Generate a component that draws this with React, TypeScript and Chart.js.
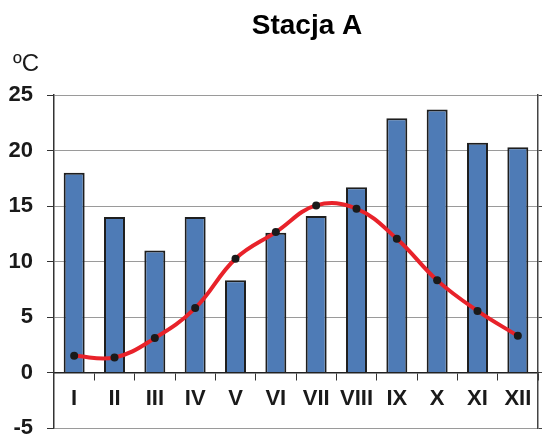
import React, { useEffect, useRef } from "react";
import { Chart, registerables } from "chart.js";

Chart.register(...registerables);

const months = ["I", "II", "III", "IV", "V", "VI", "VII", "VIII", "IX", "X", "XI", "XII"];
const precipitation = [18, 14, 11, 14, 8.3, 12.6, 14.1, 16.7, 22.9, 23.7, 20.7, 20.3];
const temperature = [1.5, 1.35, 3.1, 5.8, 10.25, 12.65, 15.05, 14.75, 12.05, 8.3, 5.55, 3.3];
const yMin = -5;
const yMax = 25;
const yStep = 5;
const titleText = "Stacja A";
const unitText = "ºC";

const FONT = '"Liberation Sans", Arial, sans-serif';

const textPlugin = {
  id: "textPlugin",
  afterDraw(chart: any) {
    const ctx = chart.ctx;
    const ca = chart.chartArea;
    ctx.save();
    ctx.fillStyle = "#000";
    ctx.font = `bold 28px ${FONT}`;
    ctx.textAlign = "center";
    ctx.textBaseline = "alphabetic";
    ctx.fillText(titleText, (ca.left + ca.right) / 2 + 11, 34);
    ctx.font = `24px ${FONT}`;
    ctx.textAlign = "left";
    ctx.fillStyle = "#1a1a1a";
    ctx.fillText(unitText, 13, 71);
    ctx.restore();
  },
};

export default function App() {
  const ref = useRef<HTMLCanvasElement>(null);
  useEffect(() => {
    document.body.style.margin = "0";
    const canvas = ref.current!;
    const chart = new Chart(canvas, {
      type: "bar",
      data: {
        labels: months,
        datasets: [
          {
            type: "line",
            data: temperature,
            borderColor: "#E8222A",
            borderWidth: 4,
            tension: 0.4,
            pointRadius: 4,
            pointBackgroundColor: "#1a1a1a",
            pointBorderColor: "#1a1a1a",
            pointBorderWidth: 0,
            order: 0,
            yAxisID: "y",
          } as any,
          {
            type: "bar",
            data: precipitation,
            backgroundColor: "#4E7BB6",
            borderColor: "#1e1e1e",
            borderWidth: 2,
            barPercentage: 0.52,
            categoryPercentage: 1,
            order: 1,
            yAxisID: "y",
          },
        ],
      },
      options: {
        responsive: false,
        animation: false,
        layout: { padding: { top: 95, bottom: 11, left: 0, right: -3 } },
        plugins: {
          legend: { display: false },
          title: { display: false },
          tooltip: { enabled: false },
        },
        scales: {
          x: {
            type: "category",
            position: { y: 0 } as any,
            offset: true,
            afterFit(scale: any) {
              scale.height = 0;
              scale.paddingLeft = 0;
              scale.paddingRight = 0;
            },
            grid: {
              display: true,
              offset: true,
              drawOnChartArea: false,
              drawTicks: true,
              tickLength: 7,
              tickColor: "#333",
              color: "#333",
            },
            border: { display: true, color: "#222", width: 1.5 },
            ticks: {
              color: "#1a1a1a",
              font: { family: FONT, size: 22, weight: "bold" },
              padding: 6,
              maxRotation: 0,
              autoSkip: false,
            },
          },
          y: {
            position: "left",
            min: yMin,
            max: yMax,
            afterFit(scale: any) {
              scale.width = 54;
              scale.paddingTop = 0;
              scale.paddingBottom = 0;
            },
            ticks: {
              stepSize: yStep,
              color: "#1a1a1a",
              font: { family: FONT, size: 22, weight: "bold" },
              padding: 14,
            },
            grid: {
              color: (c: any) => (c.tick && c.tick.value === 0 ? "#222" : "#9a9a9a"),
              tickColor: "#333",
              tickLength: 7,
              lineWidth: 1,
            },
            border: { display: true, color: "#333", width: 1.5 },
          },
          yR: {
            position: "right",
            min: yMin,
            max: yMax,
            afterFit(scale: any) {
              scale.width = 0;
              scale.paddingTop = 0;
              scale.paddingBottom = 0;
            },
            ticks: { display: false, stepSize: yStep },
            grid: {
              drawOnChartArea: false,
              tickLength: 7,
              tickColor: "#444",
              color: "#444",
            },
            border: { display: true, color: "#444", width: 1.5 },
          },
        },
      } as any,
      plugins: [textPlugin],
    });
    return () => chart.destroy();
  }, []);
  return (
    <canvas
      ref={ref}
      width={542}
      height={439}
      style={{ display: "block", width: 542, height: 439 }}
    />
  );
}
